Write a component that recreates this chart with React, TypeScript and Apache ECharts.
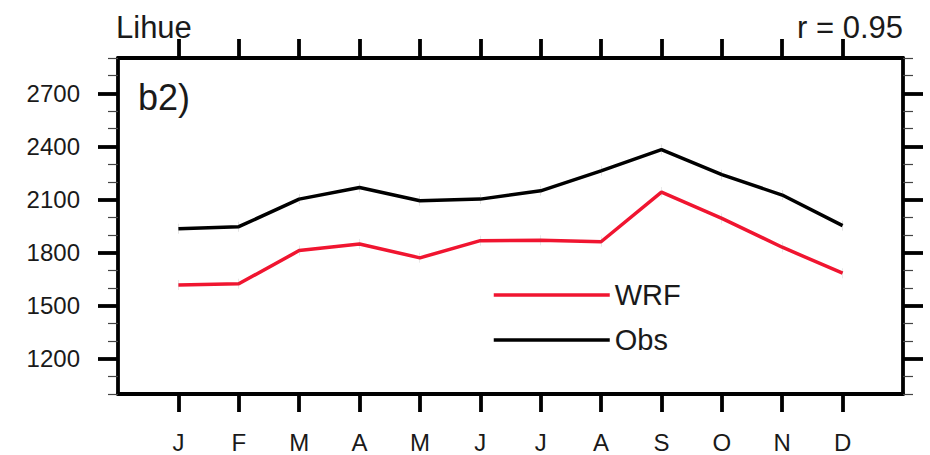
import React, { useEffect, useRef } from "react";
import * as echarts from "echarts";

// Monthly totals for Lihue: model (WRF) against observations
const months = ["J", "F", "M", "A", "M", "J", "J", "A", "S", "O", "N", "D"];
const wrfValues = [1617, 1623, 1811, 1848, 1770, 1867, 1870, 1861, 2142, 1993, 1830, 1683];
const obsValues = [1935, 1946, 2102, 2168, 2093, 2102, 2149, 2262, 2382, 2240, 2125, 1952];
const yMajorTicks = [1200, 1500, 1800, 2100, 2400, 2700];
const stationName = "Lihue";
const panelTag = "b2)";
const correlationText = "r = 0.95";

const FONT = "'Liberation Sans', Arial, Helvetica, sans-serif";
const INK = "#1a1a1a";
const FRAME = { color: "#000", width: 3.8 };
const RED = "#f01530";
const MARKER = "path://M0,0L1,0L1,10L0,10Z";

const monthPositions = months.map((_, i) => i + 1);

export default function App() {
  const ref = useRef<HTMLDivElement>(null);

  useEffect(() => {
    if (!ref.current) return;
    const chart = echarts.init(ref.current, null, { renderer: "svg" });

    const xBase = {
      type: "value" as const,
      min: 0,
      max: 13,
      interval: 1,
      splitLine: { show: false },
      axisLine: { show: true, onZero: false, lineStyle: FRAME },
    };

    const yMinor = (position: "left" | "right") => ({
      type: "value" as const,
      position,
      min: 1000,
      max: 2900,
      interval: 100,
      splitLine: { show: false },
      axisLine: { show: true, onZero: false, lineStyle: FRAME },
      axisTick: { show: true, length: 10, lineStyle: { color: "#444", width: 1.2 } },
      axisLabel: { show: false },
    });

    const yMajor = (position: "left" | "right", labels: boolean) => ({
      type: "value" as const,
      position,
      min: 1000,
      max: 2900,
      interval: 100,
      splitLine: { show: false },
      axisLine: { show: false, onZero: false },
      axisTick: {
        show: true,
        customValues: yMajorTicks,
        length: 20,
        lineStyle: { color: "#000", width: 3.8 },
      },
      axisLabel: labels
        ? {
            show: true,
            customValues: yMajorTicks,
            formatter: (v: number) => String(v),
            margin: 38,
            fontSize: 24,
            fontFamily: FONT,
            color: INK,
          }
        : { show: false },
    });

    chart.setOption({
      animation: false,
      backgroundColor: "#fff",
      textStyle: { fontFamily: FONT },
      title: [
        {
          text: stationName,
          left: 116,
          top: 12,
          padding: 0,
          textStyle: { fontSize: 31, fontWeight: "normal", color: INK, fontFamily: FONT },
        },
        {
          text: correlationText,
          right: 27,
          top: 12,
          padding: 0,
          textStyle: { fontSize: 31, fontWeight: "normal", color: INK, fontFamily: FONT },
        },
        {
          text: panelTag,
          left: 138,
          top: 79,
          padding: 0,
          textStyle: { fontSize: 36, fontWeight: "normal", color: INK, fontFamily: FONT },
        },
      ],
      legend: {
        orient: "vertical",
        left: 492,
        top: 280,
        padding: 0,
        itemWidth: 116,
        itemHeight: 14,
        itemGap: 15,
        lineStyle: { width: 3.5 },
        itemStyle: { color: "rgba(0,0,0,0)", borderWidth: 0 },
        textStyle: { fontSize: 29, lineHeight: 30, color: INK, fontFamily: FONT },
        data: ["WRF", "Obs"],
      },
      grid: { left: 118, right: 27, top: 58, bottom: 61, containLabel: false },
      xAxis: [
        {
          ...xBase,
          position: "bottom",
          axisTick: {
            show: true,
            customValues: monthPositions,
            length: 18,
            lineStyle: { color: "#000", width: 3.8 },
          },
          axisLabel: {
            show: true,
            customValues: monthPositions,
            formatter: (v: number) => months[Math.round(v) - 1] ?? "",
            margin: 36,
            fontSize: 24,
            fontFamily: FONT,
            color: INK,
          },
        },
        {
          ...xBase,
          position: "top",
          axisTick: {
            show: true,
            customValues: monthPositions,
            length: 19,
            lineStyle: { color: "#000", width: 3.8 },
          },
          axisLabel: { show: false },
        },
      ],
      yAxis: [yMinor("left"), yMajor("left", true), yMinor("right"), yMajor("right", false)],
      series: [
        {
          name: "WRF",
          type: "line",
          xAxisIndex: 0,
          yAxisIndex: 0,
          data: wrfValues.map((v, i) => [monthPositions[i], v]),
          lineStyle: { color: RED, width: 3.5 },
          itemStyle: { color: "#666" },
          symbol: MARKER,
          symbolSize: [1.4, 10],
          symbolKeepAspect: true,
          z: 3,
        },
        {
          name: "Obs",
          type: "line",
          xAxisIndex: 0,
          yAxisIndex: 0,
          data: obsValues.map((v, i) => [monthPositions[i], v]),
          lineStyle: { color: "#000", width: 3.5 },
          itemStyle: { color: "#444" },
          symbol: MARKER,
          symbolSize: [1.4, 10],
          symbolKeepAspect: true,
          z: 3,
        },
      ],
    });

    return () => chart.dispose();
  }, []);

  return (
    <div
      ref={ref}
      style={{ position: "absolute", left: 0, top: 0, width: 930, height: 455 }}
    />
  );
}
